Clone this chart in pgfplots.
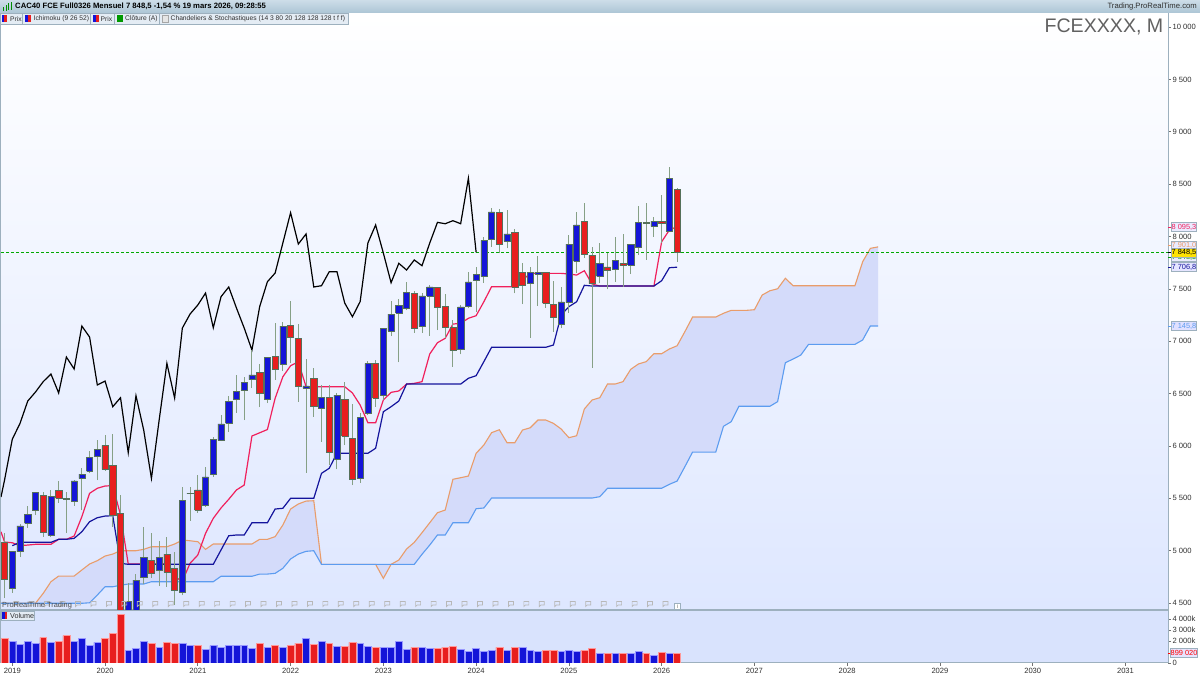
\documentclass[border=0pt]{standalone}
\usepackage{pgfplots}
\usepackage{fontspec}
\setmainfont{Liberation Sans}
\pgfplotsset{compat=1.18}
\definecolor{upc}{HTML}{1414D8}
\definecolor{dnc}{HTML}{E81E1E}
\definecolor{candleedge}{HTML}{55705A}
\definecolor{wickc}{HTML}{86A086}
\definecolor{orangeL}{HTML}{E99C6A}
\definecolor{blueL}{HTML}{5C9CF0}
\definecolor{tenkan}{HTML}{F0205C}
\definecolor{kijun}{HTML}{14149C}
\definecolor{kumo}{HTML}{D4DBFA}
\definecolor{frm}{HTML}{9DB0BE}
\definecolor{chipc}{HTML}{E4ECF4}
\definecolor{txt}{HTML}{303030}
\definecolor{lastp}{HTML}{00A800}
\newcommand{\candle}[6]{%
 \pgfmathsetmacro\xl{#2-0.4}\pgfmathsetmacro\xr{#2+0.4}%
 \addplot[forget plot,wickc,line width=1pt] coordinates {(#2,#6)(#2,#5)};
 \addplot[forget plot,fill=#1,draw=candleedge,line width=0.5pt] coordinates {(\xl,#4)(\xr,#4)(\xr,#3)(\xl,#3)(\xl,#4)};}
\newcommand{\Up}[5]{\candle{upc}{#1}{#2}{#3}{#4}{#5}}
\newcommand{\Dn}[5]{\candle{dnc}{#1}{#2}{#3}{#4}{#5}}
\newcommand{\ptag}[4]{%
 \draw[#2,line width=0.8pt] (1168pt,#1pt)--(1172pt,#1pt);
 \node[draw=frm,fill=#3,text=#2,inner sep=0pt,minimum width=24.5pt,minimum height=8.6pt,font=\fontsize{7.4}{8}\selectfont] at (1184pt,#1pt) {#4};}
\newcommand{\chipbox}[3]{%
 \fill[chipc] (#1pt,650.5pt) rectangle (#2pt,661.5pt);
 \draw[frm,line width=0.6pt] (#1pt,650.5pt) rectangle (#2pt,661.5pt);
 \node[anchor=west,inner sep=0pt,text=txt,font=\fontsize{6.7}{8}\selectfont] at (#1pt+#3pt,656pt)}
\pgfdeclareplotmark{flagmark}{%
 \path[draw=black!28,line width=0.7pt] (-2.5pt,-2.5pt)--(-2.5pt,2.5pt)--(2.5pt,2.5pt)--(2.5pt,-1pt)--(-1pt,-1pt)--cycle;}
\begin{document}
\begin{tikzpicture}
\begin{axis}[
 at={(1pt,65pt)},anchor=south west,scale only axis,width=1167pt,height=597pt,
 xmin=-1.46,xmax=149.5,ymin=4434,ymax=10134,
 scaled y ticks=false,
 axis background/.style={top color=white,bottom color={rgb,255:red,222;green,231;blue,255}},
 axis line style={frm,line width=1pt},
 xtick=\empty,
 ytick={4500,5000,5500,6000,6500,7000,7500,8000,8500,9000,9500,10000},
 yticklabels={4 500,5 000,5 500,6 000,6 500,7 000,7 500,8 000,8 500,9 000,9 500,10 000},
 ytick pos=right,yticklabel pos=right,
 tick align=outside,major tick length=3pt,
 tick style={draw=black!55,line width=0.7pt},
 yticklabel style={font=\fontsize{7.6}{9}\selectfont,text=txt,anchor=west,xshift=-2pt},
]
% Kumo area
\addplot[fill=kumo,draw=none] coordinates {(-2,4498)(3,4498)(4,4593)(5,4704)(6,4758)(8,4758)(9,4816)(10,4873)(11,4905)(12,4949)(13,4968)(14,5000)(16,5000)(17,5013)(18,5038)(20,5038)(21,5064)(22,5102)(23,5095)(24,5086)(25,5013)(26,5064)(31,5064)(32,5109)(33,5109)(34,5134)(35,5245)(36,5398)(37,5446)(38,5474)(39,5477)(40,4870)(47,4870)(48,4736)(49,4870)(50,4911)(51,5016)(52,5080)(53,5172)(54,5267)(55,5363)(56,5388)(57,5682)(58,5697)(59,5713)(60,5930)(61,6009)(62,6127)(63,6155)(64,6031)(65,6031)(66,6152)(67,6174)(68,6248)(69,6248)(70,6216)(71,6162)(72,6079)(73,6098)(74,6353)(75,6439)(76,6461)(77,6592)(78,6592)(79,6614)(80,6732)(81,6783)(82,6805)(83,6881)(84,6881)(85,6926)(86,6957)(87,7091)(88,7231)(91,7231)(92,7267)(93,7295)(95,7295)(96,7301)(97,7441)(98,7482)(99,7501)(100,7601)(101,7530)(109,7530)(110,7759)(111,7887)(112,7901)(112,7146)(111,7146)(110,7012)(109,6970)(103,6970)(102,6868)(101,6830)(100,6795)(99,6423)(98,6379)(94,6379)(93,6232)(92,6188)(91,5942)(88,5942)(87,5802)(86,5665)(85,5634)(84,5596)(77,5596)(76,5516)(75,5503)(62,5503)(61,5408)(60,5401)(59,5267)(57,5267)(56,5150)(55,5150)(54,5054)(53,4966)(52,4870)(40,4870)(39,5000)(38,4994)(37,4968)(36,4921)(35,4832)(34,4784)(33,4777)(32,4777)(31,4756)(27,4756)(26,4704)(18,4704)(17,4682)(15,4682)(14,4670)(13,4656)(12,4656)(11,4577)(10,4503)(9,4498)(-2,4498)};
\addplot[orangeL,line width=1.1pt] coordinates {(-2,4498)(3,4498)(4,4593)(5,4704)(6,4758)(8,4758)(9,4816)(10,4873)(11,4905)(12,4949)(13,4968)(14,5000)(16,5000)(17,5013)(18,5038)(20,5038)(21,5064)(22,5102)(23,5095)(24,5086)(25,5013)(26,5064)(31,5064)(32,5109)(33,5109)(34,5134)(35,5245)(36,5398)(37,5446)(38,5474)(39,5477)(40,4870)(47,4870)(48,4736)(49,4870)(50,4911)(51,5016)(52,5080)(53,5172)(54,5267)(55,5363)(56,5388)(57,5682)(58,5697)(59,5713)(60,5930)(61,6009)(62,6127)(63,6155)(64,6031)(65,6031)(66,6152)(67,6174)(68,6248)(69,6248)(70,6216)(71,6162)(72,6079)(73,6098)(74,6353)(75,6439)(76,6461)(77,6592)(78,6592)(79,6614)(80,6732)(81,6783)(82,6805)(83,6881)(84,6881)(85,6926)(86,6957)(87,7091)(88,7231)(91,7231)(92,7267)(93,7295)(95,7295)(96,7301)(97,7441)(98,7482)(99,7501)(100,7601)(101,7530)(109,7530)(110,7759)(111,7887)(112,7901)};
\addplot[blueL,line width=1.1pt] coordinates {(-2,4498)(9,4498)(10,4503)(11,4577)(12,4656)(13,4656)(14,4670)(15,4682)(17,4682)(18,4704)(26,4704)(27,4756)(31,4756)(32,4777)(33,4777)(34,4784)(35,4832)(36,4921)(37,4968)(38,4994)(39,5000)(40,4870)(52,4870)(53,4966)(54,5054)(55,5150)(56,5150)(57,5267)(59,5267)(60,5401)(61,5408)(62,5503)(75,5503)(76,5516)(77,5596)(84,5596)(85,5634)(86,5665)(87,5802)(88,5942)(91,5942)(92,6188)(93,6232)(94,6379)(98,6379)(99,6423)(100,6795)(101,6830)(102,6868)(103,6970)(109,6970)(110,7012)(111,7146)(112,7146)};
% Last-price line
\addplot[lastp,line width=1pt,dash pattern=on 3pt off 2pt] coordinates {(-1.46,7848.5)(149.5,7848.5)};
% Chikou
\addplot[black,line width=1.2pt] coordinates {(-1.46,5513)(-1,5675)(0,6064)(1,6216)(2,6429)(3,6515)(4,6614)(5,6687)(6,6506)(7,6849)(8,6735)(9,7145)(10,7040)(11,6582)(12,6620)(13,6375)(14,6461)(15,5936)(16,6480)(17,6152)(18,5691)(19,6248)(20,6789)(21,6458)(22,7126)(23,7260)(24,7346)(25,7460)(26,7129)(27,7425)(28,7518)(29,7317)(30,7126)(31,6916)(32,7330)(33,7568)(34,7651)(35,7938)(36,8227)(37,7928)(38,8024)(39,7518)(40,7530)(41,7664)(42,7664)(43,7365)(44,7234)(45,7379)(46,7938)(47,8110)(48,7842)(49,7559)(50,7744)(51,7680)(52,7776)(53,7721)(54,7938)(55,8135)(56,8122)(57,8151)(58,8122)(59,8556)(60,7849)};
% Tenkan
\addplot[tenkan,line width=1.2pt] coordinates {(-1.46,5181)(-1,5083)(0,5076)(1,5048)(2,5054)(3,5061)(5,5061)(6,5109)(7,5109)(8,5140)(9,5325)(10,5548)(11,5596)(12,5618)(13,5621)(14,5341)(15,4873)(20,4873)(21,4749)(22,4711)(23,4880)(24,4959)(25,5166)(26,5309)(27,5408)(28,5491)(29,5580)(30,5627)(31,6095)(32,6126)(33,6157)(34,6455)(35,6661)(36,6766)(37,6804)(38,6566)(43,6566)(44,6506)(45,6391)(46,6222)(47,6222)(48,6439)(49,6512)(50,6525)(51,6591)(52,6598)(53,6614)(54,6878)(55,6986)(56,7028)(57,7164)(58,7171)(59,7219)(60,7244)(61,7377)(62,7521)(65,7521)(66,7584)(67,7648)(71,7648)(72,7642)(73,7632)(74,7673)(75,7546)(76,7527)(83,7527)(84,7950)(85,8062)(86,8095)};
% Kijun
\addplot[kijun,line width=1.2pt] coordinates {(0,5048)(1,5080)(5,5080)(6,5109)(7,5109)(8,5118)(9,5181)(10,5277)(11,5315)(12,5331)(13,5334)(14,4880)(15,4870)(26,4870)(27,5007)(28,5143)(29,5150)(30,5150)(31,5267)(33,5267)(34,5398)(35,5405)(36,5500)(39,5500)(40,5739)(41,5787)(42,5930)(46,5930)(47,5978)(48,6327)(49,6375)(50,6429)(51,6591)(58,6591)(59,6646)(60,6671)(61,6805)(62,6942)(69,6942)(70,6964)(71,7250)(72,7330)(73,7377)(74,7534)(75,7527)(83,7527)(84,7578)(85,7702)(86,7707)};
% Flags
\addplot[only marks,mark=flagmark] coordinates {(0.5,4491)(2.5,4491)(4.5,4491)(6.5,4491)(8.5,4491)(10.5,4491)(12.5,4491)(14.5,4491)(16.5,4491)(18.5,4491)(20.5,4491)(22.5,4491)(24.5,4491)(26.5,4491)(28.5,4491)(30.5,4491)(32.5,4491)(34.5,4491)(36.5,4491)(38.5,4491)(40.5,4491)(42.5,4491)(44.5,4491)(46.5,4491)(48.5,4491)(50.5,4491)(52.5,4491)(54.5,4491)(56.5,4491)(58.5,4491)(60.5,4491)(62.5,4491)(64.5,4491)(66.5,4491)(68.5,4491)(70.5,4491)(72.5,4491)(74.5,4491)(76.5,4491)(78.5,4491)(80.5,4491)(82.5,4491)(84.5,4491)};
% Candles: month, body top, body bottom, high, low
\Dn{-1}{5080}{4727}{5169}{4548}
\Up{0}{4991}{4644}{4997}{4599}
\Up{1}{5236}{4991}{5255}{4940}
\Up{2}{5350}{5261}{5429}{5217}
\Up{3}{5555}{5382}{5565}{5341}
\Dn{4}{5529}{5175}{5560}{5134}
\Up{5}{5522}{5150}{5580}{5131}
\Dn{6}{5576}{5500}{5668}{5458}
\Dn{7}{5500}{5491}{5560}{5169}
\Up{8}{5666}{5472}{5675}{5429}
\Up{9}{5732}{5691}{5786}{5388}
\Up{10}{5888}{5758}{5955}{5739}
\Up{11}{5968}{5904}{6057}{5675}
\Dn{12}{6006}{5777}{6105}{5764}
\Dn{13}{5818}{5334}{6114}{5229}
\Dn{14}{5357}{4300}{5532}{4200}
\Up{15}{4513}{4300}{4694}{4200}
\Up{16}{4720}{4380}{4777}{4300}
\Up{17}{4933}{4742}{5223}{4682}
\Dn{18}{4908}{4784}{5166}{4742}
\Up{19}{4933}{4816}{5092}{4663}
\Dn{20}{4968}{4797}{5128}{4656}
\Dn{21}{4832}{4618}{4990}{4481}
\Up{22}{5481}{4599}{5605}{4577}
\Up{23}{5551}{5544}{5611}{5286}
\Dn{24}{5582}{5388}{5722}{5363}
\Up{25}{5704}{5433}{5802}{5420}
\Up{26}{6060}{5732}{6088}{5706}
\Up{27}{6210}{6057}{6296}{6047}
\Up{28}{6429}{6216}{6480}{6133}
\Up{29}{6518}{6448}{6677}{6315}
\Up{30}{6608}{6534}{6661}{6248}
\Up{31}{6680}{6633}{6916}{6553}
\Dn{32}{6703}{6499}{6780}{6372}
\Up{33}{6846}{6448}{6852}{6410}
\Dn{34}{6852}{6732}{7177}{6630}
\Up{35}{7145}{6785}{7186}{6719}
\Dn{36}{7155}{7034}{7384}{6792}
\Dn{37}{7028}{6575}{7164}{6423}
\Up{38}{6575}{6553}{6830}{5745}
\Dn{39}{6646}{6375}{6744}{6279}
\Up{40}{6461}{6360}{6582}{6041}
\Dn{41}{6465}{5936}{6582}{5818}
\Up{42}{6486}{5873}{6506}{5777}
\Dn{43}{6445}{6095}{6614}{6009}
\Dn{44}{6073}{5685}{6400}{5627}
\Up{45}{6270}{5691}{6315}{5649}
\Up{46}{6789}{6312}{6811}{6296}
\Dn{47}{6789}{6455}{6821}{6375}
\Up{48}{7123}{6480}{7126}{6439}
\Up{49}{7260}{7100}{7384}{7050}
\Up{50}{7346}{7272}{7403}{6799}
\Up{51}{7463}{7317}{7568}{7298}
\Dn{52}{7458}{7123}{7483}{7081}
\Up{53}{7432}{7139}{7458}{7081}
\Up{54}{7518}{7432}{7537}{7053}
\Dn{55}{7511}{7320}{7521}{7107}
\Dn{56}{7330}{7129}{7448}{7028}
\Dn{57}{7133}{6910}{7203}{6757}
\Up{58}{7327}{6919}{7346}{6875}
\Up{59}{7568}{7333}{7664}{7314}
\Up{60}{7639}{7587}{7712}{7282}
\Up{61}{7964}{7620}{7998}{7559}
\Up{62}{8234}{7976}{8269}{7902}
\Dn{63}{8227}{7925}{8260}{7839}
\Up{64}{8024}{7957}{8253}{7887}
\Dn{65}{8040}{7515}{8072}{7458}
\Dn{66}{7658}{7530}{7750}{7355}
\Up{67}{7658}{7553}{7706}{7034}
\Up{68}{7661}{7642}{7817}{7339}
\Dn{69}{7658}{7362}{7664}{7320}
\Dn{70}{7355}{7231}{7578}{7091}
\Up{71}{7377}{7158}{7521}{7123}
\Up{72}{7928}{7368}{8014}{7272}
\Up{73}{8112}{7763}{8231}{7651}
\Dn{74}{8145}{7830}{8317}{7795}
\Dn{75}{7820}{7549}{7897}{6747}
\Up{76}{7744}{7620}{7935}{7553}
\Dn{77}{7711}{7677}{7845}{7496}
\Up{78}{7773}{7683}{7992}{7568}
\Dn{79}{7744}{7721}{8024}{7521}
\Up{80}{7922}{7728}{7928}{7642}
\Up{81}{8132}{7900}{8291}{7823}
\Dn{82}{8138}{8122}{8323}{7776}
\Up{83}{8148}{8097}{8189}{7998}
\Dn{84}{8148}{8122}{8396}{7935}
\Up{85}{8556}{8049}{8661}{8046}
\Dn{86}{8447}{7848.5}{8466}{7759}
\end{axis}
\begin{axis}[
 at={(1pt,12pt)},anchor=south west,scale only axis,width=1167pt,height=53pt,
 xmin=-1.46,xmax=149.5,ymin=0,ymax=4820,
 scaled y ticks=false,scaled x ticks=false,
 axis background/.style={fill={rgb,255:red,217;green,227;blue,253}},
 axis line style={frm,line width=1pt},
 ybar,bar shift=0pt,bar width=6.9pt,
 xtick={0,12,24,36,48,60,72,84,96,108,120,132,144},
 xticklabels={2019,2020,2021,2022,2023,2024,2025,2026,2027,2028,2029,2030,2031},
 ytick={0,2000,3000,4000},
 yticklabels={0,2 000k,3 000k,4 000k},
 xtick pos=bottom,ytick pos=right,yticklabel pos=right,
 tick align=outside,major tick length=3pt,
 tick style={draw=black!55,line width=0.7pt},
 xticklabel style={font=\fontsize{7.6}{9}\selectfont,text=txt,yshift=1.5pt},
 yticklabel style={font=\fontsize{7.6}{9}\selectfont,text=txt,anchor=west,xshift=-2pt},
]
\addplot[fill=upc,draw=white!60!blue,line width=0.4pt] coordinates {(0,2000)(1,1697)(2,2000)(3,1818)(5,1879)(8,2000)(9,2212)(10,1576)(11,1879)(15,1182)(16,1364)(17,2000)(19,1454)(22,1818)(23,1576)(25,1242)(26,1576)(27,1394)(28,1576)(29,1576)(30,1576)(31,1364)(33,1454)(35,1424)(38,2212)(40,1939)(42,1515)(45,1818)(46,1515)(48,1454)(49,1454)(50,1970)(51,1242)(53,1424)(54,1303)(58,1242)(59,1060)(60,1364)(61,1091)(62,1121)(64,1121)(66,1424)(67,1151)(68,1091)(71,1030)(72,1182)(73,1030)(76,848)(78,909)(80,909)(81,1091)(83,727)(85,909)};
\addplot[fill=dnc,draw=white!60!red,line width=0.4pt] coordinates {(-1,2212)(4,2333)(6,2000)(7,2485)(12,2212)(13,2667)(14,4424)(18,1757)(20,1879)(21,1757)(24,1636)(32,1818)(34,1576)(36,1636)(37,1818)(39,1697)(41,1757)(43,1515)(44,1879)(47,1394)(52,1424)(55,1364)(56,1454)(57,1545)(63,1424)(65,1424)(69,1151)(70,1151)(74,1182)(75,1303)(77,909)(79,909)(82,909)(84,1000)(86,899)};
\end{axis}
% Header bar
\shade[top color={rgb,255:red,205;green,221;blue,232},bottom color={rgb,255:red,172;green,197;blue,213}] (0pt,662pt) rectangle (1200pt,675pt);
\foreach \xa/\ya/\yb in {3/664/668,5.5/664/670,8/665/672,10.5/665/673}{\fill[green!55!black] (\xa pt,\ya pt) rectangle (\xa pt+1.4pt,\yb pt);}
\node[anchor=west,inner sep=0pt,text=black,font=\fontsize{7.7}{9}\selectfont] at (15pt,668.2pt) {\textbf{CAC40 FCE Full0326 Mensuel 7 848,5 -1,54 \% 19 mars 2026, 09:28:55}};
\node[anchor=east,inner sep=0pt,text=txt,font=\fontsize{7.7}{9}\selectfont] at (1197pt,668.2pt) {Trading.ProRealTime.com};
% Legend chips
\chipbox{0.5}{22.5}{9.5}{Prix};
\fill[upc] (1.5pt,652.5pt) rectangle (4.2pt,659.5pt);\fill[dnc] (4.2pt,652.5pt) rectangle (7pt,659.5pt);
\chipbox{22.5}{90.5}{11}{Ichimoku (9 26 52)};
\fill[upc] (25pt,652.5pt) rectangle (27.5pt,659.5pt);\fill[dnc] (27.5pt,652.5pt) rectangle (31pt,659.5pt);
\chipbox{90.5}{114.5}{10}{Prix};
\fill[upc] (92.5pt,652.5pt) rectangle (95.5pt,659.5pt);\fill[dnc] (95.5pt,652.5pt) rectangle (98.5pt,659.5pt);
\chipbox{114.5}{159.5}{10.5}{Clôture (A)};
\fill[green!60!black] (116.5pt,652.5pt) rectangle (122.5pt,659.5pt);
\chipbox{159.5}{348}{11}{Chandeliers \& Stochastiques (14 3 80 20 128 128 128 t f f)};
\draw[black!35,fill=white!90!black] (162.5pt,652.5pt) rectangle (168.5pt,659.5pt);
% Symbol
\node[anchor=east,inner sep=0pt,text=black!62,font=\fontsize{19.6}{22}\selectfont] at (1163.5pt,648pt) {FCEXXXX, M};
% Watermark and volume chip
\node[anchor=west,inner sep=0pt,text=black!70,font=\fontsize{7.4}{9}\selectfont] at (2pt,69pt) {ProRealTime Trading};
\fill[chipc] (1pt,55pt) rectangle (34pt,64pt);
\draw[frm,line width=0.5pt] (1pt,55pt) rectangle (34pt,64pt);
\fill[upc] (2pt,56pt) rectangle (4.5pt,63pt);\fill[dnc] (4.5pt,56pt) rectangle (7pt,63pt);
\node[anchor=west,inner sep=0pt,text=txt,font=\fontsize{7.2}{9}\selectfont] at (10pt,59.5pt) {Volume};
% Info icon
\draw[frm,fill=white,line width=0.5pt] (674.5pt,65.5pt) rectangle (680.5pt,71.5pt);
\node[inner sep=0pt,text=black!60,font=\fontsize{5.5}{6}\selectfont] at (677.5pt,68.5pt) {i};
% Price tags
\ptag{448}{tenkan}{white!92!blue}{8 095,3}
\ptag{429.5}{orangeL}{white!92!blue}{7 901,0}
\ptag{418}{green!60!black}{white!92!blue}{7 848,5}
\ptag{422.5}{black}{yellow!85!orange}{7 848,5}
\ptag{408}{kijun}{white!90!blue}{7 706,8}
\ptag{349}{blueL}{white!88!blue}{7 145,8}
\ptag{22}{red}{white!90!blue}{899 020}
\path (0pt,0pt) rectangle (1200pt,675pt);
\end{tikzpicture}
\end{document}
